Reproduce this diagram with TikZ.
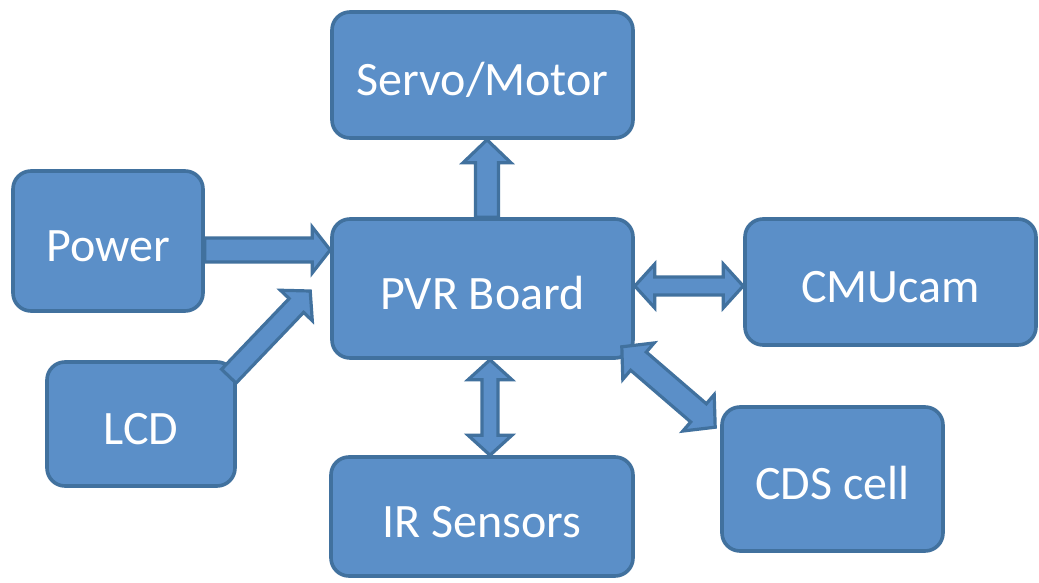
\documentclass[tikz,border=0pt]{standalone}
\usepackage{fontspec}
\setmainfont{Carlito}
\usetikzlibrary{calc}

\definecolor{boxfill}{RGB}{91,143,200}
\definecolor{boxedge}{RGB}{65,113,158}

\tikzset{
  box/.style={draw=boxedge, fill=boxfill, line width=3.6pt, rounded corners=18pt,
    text=white, font=\fontsize{48}{58}\selectfont,
    text height=42.5pt, text depth=1pt, inner sep=0pt},
  arrowbody/.style={draw=boxedge, fill=boxfill, line width=3.2pt, line join=miter}
}

% Block arrow with one head: tail, tip, shaft half-width, head half-width, head length
\newcommand\blockarrow[5]{%
  \path[arrowbody]
    ($(#1)!#3!90:(#2)$) --
    ($(#2)!#5!(#1)!#3!-90:(#1)$) --
    ($(#2)!#5!(#1)!#4!-90:(#1)$) --
    (#2) --
    ($(#2)!#5!(#1)!#4!90:(#1)$) --
    ($(#2)!#5!(#1)!#3!90:(#1)$) --
    ($(#1)!#3!-90:(#2)$) -- cycle;}

% Block arrow with heads at both ends
\newcommand\blockarrowboth[5]{%
  \path[arrowbody]
    (#1) --
    ($(#1)!#5!(#2)!#4!90:(#2)$) --
    ($(#1)!#5!(#2)!#3!90:(#2)$) --
    ($(#2)!#5!(#1)!#3!-90:(#1)$) --
    ($(#2)!#5!(#1)!#4!-90:(#1)$) --
    (#2) --
    ($(#2)!#5!(#1)!#4!90:(#1)$) --
    ($(#2)!#5!(#1)!#3!90:(#1)$) --
    ($(#1)!#5!(#2)!#3!-90:(#2)$) --
    ($(#1)!#5!(#2)!#4!-90:(#2)$) -- cycle;}

\begin{document}
\begin{tikzpicture}[x=1pt, y=-1pt]
  \useasboundingbox[fill=white] (0,0) rectangle (1039,583);

  % blocks
  \node[box, minimum width=301pt, minimum height=126pt] (servo) at (482.5,75) {Servo/Motor};
  \node[box, minimum width=190pt, minimum height=140pt] (power) at (108,241) {Power};
  \node[box, minimum width=301pt, minimum height=139pt] (pvr) at (482.5,288.5) {PVR Board};
  \node[box, minimum width=291pt, minimum height=126pt] (cmucam) at (890.5,282) {CMUcam};
  \node[box, minimum width=188pt, minimum height=124pt] (lcd) at (141,424) {LCD};
  \node[box, minimum width=302pt, minimum height=119pt] (ir) at (482,516.5) {IR Sensors};
  \node[box, minimum width=221pt, minimum height=144pt] (cds) at (832.5,479) {CDS cell};

  % arrow end points on the block borders
  \coordinate (servoA) at ($(pvr.north)+(4.5,0)$);
  \coordinate (servoB) at ($(servo.south)+(4.5,0)$);
  \coordinate (powerA) at ($(power.east)+(0,9)$);
  \coordinate (powerB) at ($(pvr.west)+(0,-38.5)$);
  \coordinate (lcdA) at ($(lcd.north east)+(-8,16)$);
  \coordinate (lcdB) at ($(pvr.west)+(-20,2.5)$);
  \coordinate (camA) at ($(pvr.east)+(0,-2.5)$);
  \coordinate (camB) at ($(cmucam.west)+(0,4)$);
  \coordinate (cdsA) at ($(pvr.south east)+(-13,-13)$);
  \coordinate (cdsB) at ($(cds.north west)+(-5,22)$);
  \coordinate (irA) at ($(pvr.south)+(7.5,0)$);
  \coordinate (irB) at ($(ir.north)+(8,0)$);

  % connectors
  \blockarrow{servoA}{servoB}{11.5pt}{24pt}{23pt}
  \blockarrow{powerA}{powerB}{12pt}{23pt}{18pt}
  \blockarrow{lcdA}{lcdB}{10pt}{22pt}{20pt}
  \blockarrowboth{camA}{camB}{9pt}{22pt}{20pt}
  \blockarrowboth{cdsA}{cdsB}{12pt}{24pt}{22pt}
  \blockarrowboth{irA}{irB}{8pt}{22pt}{20pt}
\end{tikzpicture}
\end{document}
